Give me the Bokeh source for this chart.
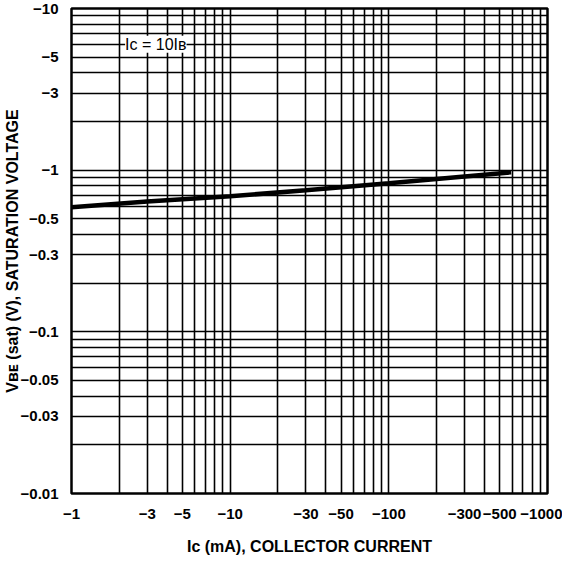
from bokeh.plotting import figure
from bokeh.models import FixedTicker, Label
from bokeh.embed import file_html
from bokeh.resources import INLINE

# Data (magnitudes; the chart labels them as negative values)
ic_ma = [1, 3, 10, 30, 100, 300, 590]
vbe_sat = [0.59, 0.64, 0.69, 0.75, 0.83, 0.915, 0.97]

x_ticks = [1, 3, 5, 10, 30, 50, 100, 300, 500, 1000]
x_tick_labels = ["−1", "−3", "−5", "−10", "−30", "−50", "−100", "−300", "−500", "−1000"]
y_ticks = [0.01, 0.03, 0.05, 0.1, 0.3, 0.5, 1, 3, 5, 10]
y_tick_labels = ["−0.01", "−0.03", "−0.05", "−0.1", "−0.3", "−0.5", "−1", "−3", "−5", "−10"]

x_grid = [m * d for d in (1, 10, 100) for m in range(1, 10)] + [1000]
y_grid = [round(m * d, 4) for d in (0.01, 0.1, 1) for m in range(1, 10)] + [10]

FONT = "Liberation Sans"

p = figure(x_axis_type="log", y_axis_type="log",
           x_range=(1, 1000), y_range=(0.01, 10),
           frame_width=476, frame_height=485,
           min_border_left=60, min_border_right=15,
           min_border_top=8, min_border_bottom=56,
           output_backend="svg", toolbar_location=None)

p.background_fill_color = "white"
p.border_fill_color = "white"
p.outline_line_color = "black"
p.outline_line_width = 2.5

for g, vals in ((p.xgrid, x_grid), (p.ygrid, y_grid)):
    g.ticker = FixedTicker(ticks=vals)
    g.grid_line_color = "black"
    g.grid_line_width = 1.6
    g.grid_line_alpha = 1.0

p.xaxis.ticker = FixedTicker(ticks=x_ticks)
p.yaxis.ticker = FixedTicker(ticks=y_ticks)
p.xaxis.major_label_overrides = dict(zip(x_ticks, x_tick_labels))
p.yaxis.major_label_overrides = dict(zip(y_ticks, y_tick_labels))

for ax in (p.xaxis, p.yaxis):
    ax.axis_line_color = None
    ax.major_tick_line_color = None
    ax.minor_tick_line_color = None
    ax.major_label_text_font = FONT
    ax.major_label_text_font_style = "bold"
    ax.major_label_text_font_size = "15px"
    ax.major_label_text_color = "black"
    ax.axis_label_text_font = FONT
    ax.axis_label_text_font_style = "bold"
    ax.axis_label_text_font_size = "16px"
    ax.axis_label_text_color = "black"

p.xaxis.major_label_standoff = 9
p.yaxis.major_label_standoff = 7
p.xaxis.axis_label = "Iᴄ (mA), COLLECTOR CURRENT"
p.yaxis.axis_label = "Vʙᴇ (sat) (V), SATURATION VOLTAGE"
p.xaxis.axis_label_standoff = 16
p.yaxis.axis_label_standoff = -3

p.line(ic_ma, vbe_sat, line_color="black", line_width=4.5)

p.add_layout(Label(x=3.4, y=6, text="Iᴄ = 10Iʙ", text_font=FONT,
                   text_font_size="16px", text_color="black",
                   text_align="center", text_baseline="middle",
                   background_fill_color="white", background_fill_alpha=1.0))

open("out.html", "w").write(file_html(p, INLINE))
